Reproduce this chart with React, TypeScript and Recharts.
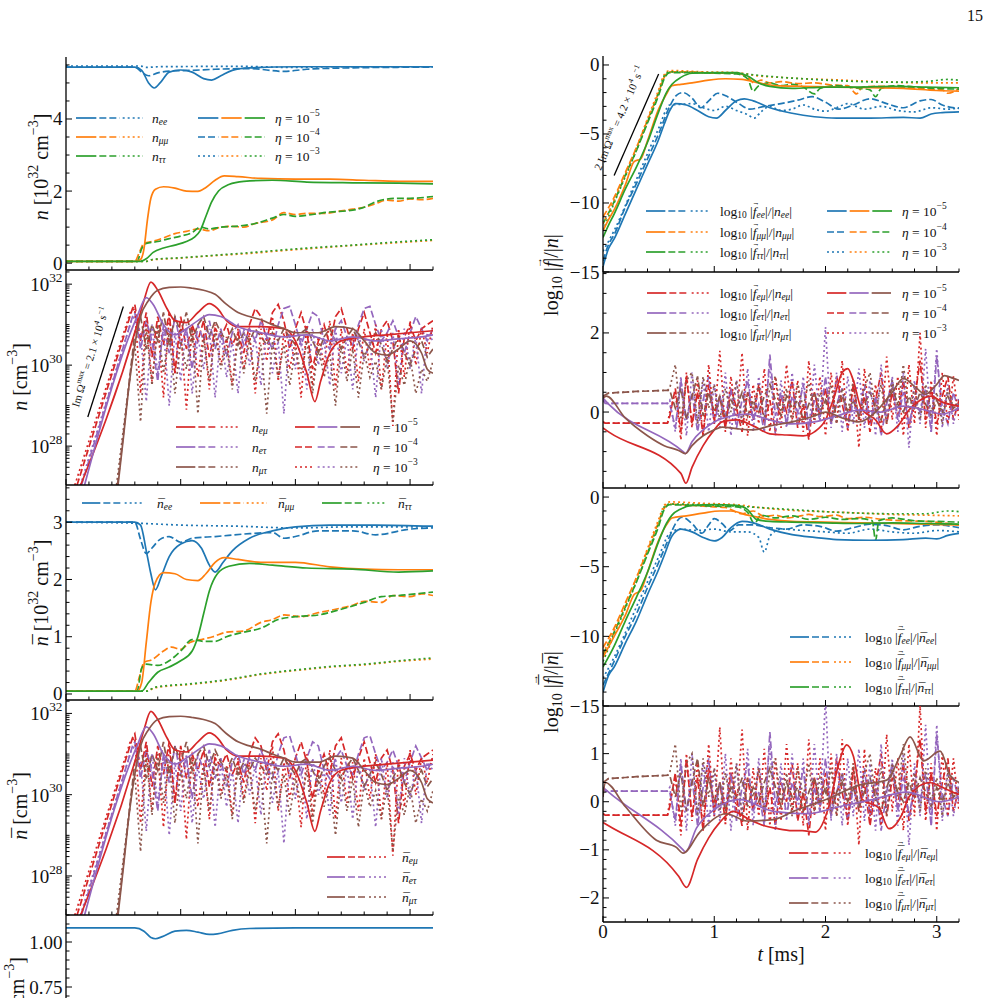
import React from 'react';
import { LineChart, Line, XAxis, YAxis, ReferenceLine } from 'recharts';

type Pt = [number, number];
type Row = { t: number; v: number };

const FONT = '"Liberation Serif", "DejaVu Serif", serif';
const BLUE = '#1f77b4';
const ORANGE = '#ff7f0e';
const GREEN = '#2ca02c';
const RED = '#d62728';
const PURPLE = '#9467bd';
const BROWN = '#8c564b';
const SOLID = '';
const DASH = '7 3';
const DOT = '2 3';

// ---- time axis ----
const tMajor = [0, 1, 2, 3];
const tGrid = [
  0.6, 0.65, 0.7, 0.75, 0.8, 0.85, 0.9, 0.95, 1.0, 1.05,
  1.1, 1.15, 1.2, 1.25, 1.3, 1.35, 1.4, 1.45, 1.5, 1.55,
  1.6, 1.65, 1.7, 1.75, 1.8, 1.85, 1.9, 1.95, 2.0, 2.05,
  2.1, 2.15, 2.2, 2.25, 2.3, 2.35, 2.4, 2.45, 2.5, 2.55,
  2.6, 2.65, 2.7, 2.75, 2.8, 2.85, 2.9, 2.95, 3.0, 3.05,
  3.1, 3.15, 3.2,
];

// ---- diagonal number densities n [1e32 cm^-3] ----
const nEeSolid: Pt[] = [[0, 5.44], [0.6, 5.44], [0.66, 5.35], [0.72, 5.0], [0.77, 4.86], [0.82, 5.0], [0.9, 5.3], [1.0, 5.36], [1.1, 5.3], [1.2, 5.12], [1.27, 5.08], [1.35, 5.2], [1.45, 5.35], [1.6, 5.42], [2.0, 5.45], [3.2, 5.45]];
const nEeDash: Pt[] = [[0, 5.44], [0.6, 5.44], [0.66, 5.3], [0.72, 5.2], [0.8, 5.28], [0.9, 5.33], [1.1, 5.35], [1.3, 5.38], [1.6, 5.4], [1.9, 5.32], [2.1, 5.38], [2.5, 5.42], [3.2, 5.44]];
const nEeDot: Pt[] = [[0, 5.47], [0.65, 5.47], [0.7, 5.43], [0.8, 5.45], [1.5, 5.46], [2.0, 5.43], [2.3, 5.45], [3.2, 5.45]];
const nMmSolid: Pt[] = [[0, 0.05], [0.6, 0.05], [0.65, 0.1], [0.68, 0.4], [0.71, 1.2], [0.74, 1.8], [0.78, 2.05], [0.85, 2.12], [0.95, 2.08], [1.05, 2.0], [1.15, 1.99], [1.22, 2.1], [1.3, 2.3], [1.38, 2.42], [1.5, 2.4], [1.7, 2.35], [2.0, 2.33], [2.3, 2.33], [2.6, 2.3], [2.9, 2.27], [3.2, 2.27]];
const nMmDash: Pt[] = [[0, 0.05], [0.6, 0.05], [0.64, 0.3], [0.68, 0.55], [0.75, 0.6], [0.85, 0.7], [0.95, 0.82], [1.05, 0.88], [1.15, 0.95], [1.25, 0.9], [1.35, 1.0], [1.45, 1.02], [1.55, 1.0], [1.65, 1.1], [1.8, 1.2], [1.9, 1.4], [2.0, 1.35], [2.1, 1.38], [2.25, 1.38], [2.4, 1.45], [2.5, 1.5], [2.6, 1.55], [2.7, 1.65], [2.8, 1.75], [2.9, 1.72], [3.0, 1.78], [3.1, 1.76], [3.2, 1.8]];
const nMmDot: Pt[] = [[0, 0.05], [0.7, 0.05], [0.75, 0.09], [1.0, 0.14], [1.3, 0.21], [1.6, 0.27], [1.9, 0.35], [2.2, 0.42], [2.5, 0.49], [2.8, 0.55], [3.2, 0.63]];
const nTtSolid: Pt[] = [[0, 0.05], [0.65, 0.05], [0.7, 0.12], [0.76, 0.3], [0.85, 0.42], [0.95, 0.5], [1.05, 0.6], [1.12, 0.72], [1.17, 0.9], [1.22, 1.3], [1.27, 1.7], [1.33, 2.0], [1.42, 2.18], [1.55, 2.27], [1.8, 2.3], [2.1, 2.25], [2.5, 2.23], [2.9, 2.22], [3.2, 2.2]];
const nTtDash: Pt[] = [[0, 0.05], [0.62, 0.05], [0.66, 0.4], [0.7, 0.55], [0.8, 0.6], [0.9, 0.68], [1.0, 0.75], [1.1, 0.85], [1.17, 1.0], [1.25, 0.95], [1.35, 1.0], [1.5, 1.03], [1.65, 1.1], [1.8, 1.25], [1.9, 1.35], [2.0, 1.3], [2.15, 1.35], [2.3, 1.42], [2.45, 1.45], [2.6, 1.55], [2.7, 1.7], [2.8, 1.78], [2.9, 1.8], [3.0, 1.8], [3.2, 1.85]];
const nTtDot: Pt[] = [[0, 0.05], [0.7, 0.05], [0.75, 0.1], [1.0, 0.15], [1.3, 0.22], [1.6, 0.29], [1.9, 0.37], [2.2, 0.44], [2.5, 0.5], [2.8, 0.57], [3.2, 0.65]];

// ---- antineutrino diagonal densities ----
const nbEeSolid: Pt[] = [[0, 3.0], [0.6, 3.0], [0.65, 2.95], [0.7, 2.5], [0.74, 2.1], [0.78, 1.82], [0.83, 2.05], [0.9, 2.4], [1.0, 2.62], [1.1, 2.68], [1.18, 2.55], [1.25, 2.25], [1.3, 2.13], [1.37, 2.3], [1.45, 2.5], [1.6, 2.72], [1.8, 2.85], [2.0, 2.92], [2.3, 2.95], [2.7, 2.95], [3.2, 2.93]];
const nbEeDash: Pt[] = [[0, 3.0], [0.6, 3.0], [0.65, 2.7], [0.7, 2.45], [0.75, 2.55], [0.82, 2.7], [0.9, 2.75], [1.0, 2.65], [1.1, 2.72], [1.3, 2.75], [1.6, 2.8], [1.8, 2.82], [1.9, 2.72], [2.0, 2.75], [2.2, 2.85], [2.5, 2.85], [2.7, 2.78], [3.0, 2.88], [3.2, 2.9]];
const nbEeDot: Pt[] = [[0, 3.0], [0.65, 2.98], [1.0, 2.95], [1.5, 2.93], [2.0, 2.9], [2.5, 2.92], [3.2, 2.92]];
const nbMmSolid: Pt[] = [[0, 0.05], [0.62, 0.05], [0.66, 0.2], [0.7, 0.9], [0.74, 1.6], [0.78, 1.95], [0.85, 2.12], [0.95, 2.1], [1.05, 2.0], [1.15, 1.98], [1.22, 2.1], [1.3, 2.3], [1.38, 2.38], [1.5, 2.35], [1.7, 2.3], [2.0, 2.3], [2.3, 2.22], [2.6, 2.18], [2.9, 2.17], [3.2, 2.17]];
const nbMmDash: Pt[] = [[0, 0.05], [0.6, 0.05], [0.64, 0.3], [0.68, 0.55], [0.75, 0.6], [0.85, 0.75], [0.92, 0.82], [1.0, 0.78], [1.08, 0.9], [1.18, 0.95], [1.28, 1.0], [1.4, 1.08], [1.55, 1.1], [1.7, 1.25], [1.8, 1.3], [1.9, 1.38], [2.05, 1.35], [2.2, 1.42], [2.35, 1.48], [2.5, 1.55], [2.6, 1.62], [2.75, 1.6], [2.85, 1.72], [3.0, 1.7], [3.1, 1.75], [3.2, 1.72]];
const nbMmDot: Pt[] = [[0, 0.05], [0.7, 0.05], [0.78, 0.11], [1.1, 0.17], [1.4, 0.24], [1.7, 0.34], [2.0, 0.41], [2.3, 0.47], [2.6, 0.51], [2.9, 0.57], [3.2, 0.61]];
const nbTtSolid: Pt[] = [[0, 0.05], [0.66, 0.05], [0.72, 0.2], [0.8, 0.38], [0.9, 0.47], [1.0, 0.58], [1.1, 0.75], [1.15, 1.0], [1.2, 1.4], [1.25, 1.8], [1.32, 2.1], [1.42, 2.23], [1.6, 2.28], [1.8, 2.25], [2.1, 2.2], [2.5, 2.18], [2.9, 2.13], [3.2, 2.15]];
const nbTtDash: Pt[] = [[0, 0.05], [0.62, 0.05], [0.66, 0.45], [0.7, 0.52], [0.8, 0.5], [0.9, 0.58], [1.0, 0.75], [1.1, 0.95], [1.2, 0.92], [1.3, 0.92], [1.4, 1.0], [1.55, 1.08], [1.7, 1.15], [1.85, 1.3], [2.0, 1.35], [2.2, 1.38], [2.4, 1.48], [2.6, 1.6], [2.75, 1.7], [2.9, 1.72], [3.05, 1.75], [3.2, 1.78]];
const nbTtDot: Pt[] = [[0, 0.05], [0.7, 0.05], [0.78, 0.12], [1.1, 0.18], [1.4, 0.25], [1.7, 0.35], [2.0, 0.42], [2.3, 0.48], [2.6, 0.52], [2.9, 0.58], [3.2, 0.63]];

// ---- off-diagonal |n| in log10(cm^-3) ----
const nEmSolid: Pt[] = [[0.08, 26.7], [0.62, 31.0], [0.68, 31.6], [0.74, 32.05], [0.8, 31.85], [0.88, 31.4], [0.95, 31.1], [1.05, 31.05], [1.15, 31.3], [1.25, 31.52], [1.32, 31.4], [1.4, 31.1], [1.5, 30.95], [1.7, 30.95], [1.9, 30.9], [2.0, 30.6], [2.1, 29.8], [2.17, 29.1], [2.22, 29.6], [2.3, 30.3], [2.4, 30.6], [2.6, 30.7], [2.8, 30.75], [3.0, 30.8], [3.2, 30.85]];
const nEtSolid: Pt[] = [[0.13, 26.7], [0.62, 31.2], [0.7, 31.67], [0.76, 31.5], [0.85, 31.0], [0.95, 30.75], [1.05, 30.9], [1.15, 31.1], [1.25, 31.25], [1.35, 31.2], [1.5, 30.95], [1.7, 30.8], [1.9, 30.7], [2.1, 30.75], [2.3, 30.6], [2.5, 30.7], [2.7, 30.6], [2.9, 30.65], [3.1, 30.7], [3.2, 30.75]];
const nMtSolid: Pt[] = [[0.44, 26.7], [0.5, 28.2], [0.55, 29.5], [0.6, 30.5], [0.65, 31.2], [0.72, 31.6], [0.8, 31.85], [0.9, 31.92], [1.0, 31.93], [1.1, 31.9], [1.2, 31.85], [1.3, 31.75], [1.4, 31.5], [1.5, 31.3], [1.6, 31.2], [1.7, 31.12], [1.8, 31.0], [1.9, 30.9], [2.0, 30.8], [2.2, 30.8], [2.35, 30.95], [2.5, 30.9], [2.6, 30.6], [2.7, 30.3], [2.8, 30.25], [2.9, 30.4], [3.0, 30.6], [3.1, 30.3], [3.15, 29.9], [3.2, 29.8]];

const nEmDashHead: Pt[] = [[0.07, 26.8], [0.58, 31.4]];
const nEmDotHead: Pt[] = [[0.05, 26.8], [0.56, 31.3]];
const nEtDashHead: Pt[] = [[0.11, 26.8], [0.58, 31.2]];
const nEtDotHead: Pt[] = [[0.1, 26.8], [0.57, 31.1]];
const nMtDashHead: Pt[] = [[0.44, 26.8], [0.58, 30.3]];
const nMtDotHead: Pt[] = [[0.43, 26.8], [0.57, 30.0]];

const nEmDash = [
  31.5, 30.6, 31.3, 30.2, 31.2, 30.5, 31.3, 29.8, 31.2, 30.4,
  31.0, 30.6, 31.1, 30.2, 30.9, 30.7, 31.0, 30.5, 30.8, 30.3,
  31.0, 31.4, 31.2, 30.6, 31.3, 31.5, 31.1, 30.4, 30.9, 31.3,
  30.8, 29.9, 30.6, 31.0, 30.5, 31.2, 31.4, 30.9, 30.4, 30.9,
  31.3, 30.8, 30.3, 30.9, 31.1, 30.6, 29.3, 30.7, 31.0, 30.6,
  30.9, 31.0, 31.1,
];
const nEtDash = [
  31.3, 30.4, 31.1, 30.6, 29.6, 31.0, 30.3, 31.2, 30.5, 30.9,
  29.9, 31.0, 30.6, 31.1, 30.4, 30.9, 30.2, 30.8, 31.0, 30.5,
  30.9, 30.6, 31.1, 30.7, 30.4, 31.0, 31.4, 31.45, 31.0, 30.5,
  30.9, 31.3, 31.2, 30.6, 30.4, 30.9, 31.1, 30.7, 30.5, 31.0,
  31.4, 31.45, 31.0, 30.6, 30.8, 31.1, 30.7, 30.3, 30.8, 31.2,
  30.9, 30.6, 30.9,
];
const nMtDash = [
  30.8, 31.2, 30.4, 31.0, 30.6, 31.3, 30.5, 31.2, 30.8, 31.3,
  30.6, 31.0, 31.2, 30.7, 31.1, 30.8, 30.6, 30.9, 30.5, 30.8,
  30.6, 30.9, 30.7, 30.5, 30.8, 30.6, 30.9, 30.7, 30.5, 30.8,
  30.9, 30.6, 30.3, 30.7, 30.9, 30.6, 30.4, 30.7, 30.9, 30.6,
  30.2, 30.5, 30.8, 30.5, 30.1, 30.4, 30.7, 30.3, 30.0, 30.4,
  30.6, 30.2, 30.4,
];
const nEmDot = [
  31.4, 29.3, 31.1, 29.6, 31.0, 29.2, 31.2, 29.8, 30.9, 28.9,
  31.0, 29.7, 30.8, 29.4, 31.0, 30.0, 30.7, 29.5, 30.9, 29.9,
  30.8, 29.3, 30.9, 30.1, 31.2, 29.6, 30.8, 29.9, 30.6, 29.2,
  31.0, 29.5, 30.7, 30.0, 31.1, 29.4, 30.9, 29.8, 30.8, 29.6,
  30.9, 29.9, 31.0, 29.4, 30.8, 28.5, 30.9, 29.7, 31.1, 30.0,
  30.9, 30.3, 31.0,
];
const nEtDot = [
  31.2, 30.8, 29.1, 31.0, 29.8, 30.9, 29.0, 30.8, 29.6, 31.0,
  29.3, 30.7, 29.9, 30.9, 29.2, 30.8, 29.7, 30.6, 29.3, 30.9,
  30.0, 30.7, 29.5, 30.9, 29.8, 30.6, 28.8, 30.8, 29.9, 30.7,
  29.4, 30.9, 30.0, 30.6, 29.5, 30.9, 29.8, 30.7, 29.4, 30.8,
  30.1, 30.6, 29.2, 30.9, 29.9, 30.8, 29.5, 30.9, 29.9, 30.7,
  29.3, 30.8, 30.6,
];
const nMtDot = [
  30.5, 28.6, 30.9, 29.5, 31.0, 29.8, 30.8, 29.3, 30.6, 29.9,
  30.9, 28.8, 30.7, 29.6, 30.8, 29.9, 30.5, 29.4, 30.7, 29.8,
  30.6, 29.6, 30.5, 28.8, 30.6, 29.7, 30.5, 29.5, 30.4, 29.8,
  30.6, 29.3, 30.5, 29.7, 30.3, 29.0, 30.5, 29.6, 30.4, 29.2,
  30.3, 29.7, 30.1, 29.4, 30.2, 28.6, 30.0, 29.5, 30.2, 29.3,
  29.9, 29.6, 30.1,
];

// ---- total density (bottom left) ----
const nTot: Pt[] = [[0, 1.078], [0.6, 1.078], [0.68, 1.06], [0.74, 1.025], [0.78, 1.018], [0.84, 1.03], [0.95, 1.06], [1.05, 1.065], [1.15, 1.055], [1.25, 1.042], [1.32, 1.045], [1.45, 1.065], [1.6, 1.075], [2.0, 1.078], [3.2, 1.078]];

// ---- log10 |f|/|n|, diagonal ----
const fEeSolid: Pt[] = [[0, -14.6], [0.05, -13.3], [0.1, -12.6], [0.2, -10.8], [0.3, -9.0], [0.4, -7.2], [0.5, -5.4], [0.55, -4.3], [0.6, -3.3], [0.65, -2.8], [0.75, -2.9], [0.85, -3.3], [0.95, -3.75], [1.02, -3.85], [1.1, -3.3], [1.2, -2.6], [1.27, -2.45], [1.35, -2.6], [1.5, -3.1], [1.7, -3.5], [1.9, -3.75], [2.1, -3.85], [2.4, -3.85], [2.7, -3.8], [2.85, -3.85], [2.95, -3.55], [3.05, -3.45], [3.2, -3.4]];
const fEeDash: Pt[] = [[0, -14.2], [0.05, -13.0], [0.1, -12.3], [0.2, -10.3], [0.3, -8.6], [0.4, -6.8], [0.5, -5.0], [0.6, -3.0], [0.66, -2.2], [0.72, -2.0], [0.8, -2.4], [0.88, -3.1], [0.95, -2.6], [1.03, -2.05], [1.12, -2.3], [1.22, -2.8], [1.32, -3.2], [1.45, -3.0], [1.6, -2.8], [1.75, -2.55], [1.88, -2.3], [2.0, -2.7], [2.12, -3.2], [2.25, -2.9], [2.4, -2.45], [2.55, -2.8], [2.7, -3.1], [2.85, -2.6], [2.95, -2.5], [3.05, -2.9], [3.2, -3.15]];
const fEeDot: Pt[] = [[0, -13.5], [0.1, -12.0], [0.3, -8.3], [0.5, -4.6], [0.6, -2.9], [0.7, -2.85], [0.8, -2.8], [0.9, -3.1], [1.0, -3.3], [1.1, -3.0], [1.2, -3.3], [1.3, -3.6], [1.36, -3.85], [1.42, -3.4], [1.5, -3.0], [1.6, -3.3], [1.7, -3.2], [1.8, -2.9], [1.9, -3.2], [2.0, -3.35], [2.1, -3.1], [2.2, -2.8], [2.35, -3.2], [2.5, -3.0], [2.65, -3.3], [2.8, -3.4], [2.95, -3.1], [3.1, -3.2], [3.2, -3.1]];
const fMmSolid: Pt[] = [[0, -12.0], [0.05, -11.2], [0.1, -10.5], [0.2, -8.7], [0.28, -7.0], [0.34, -6.8], [0.4, -5.5], [0.5, -3.2], [0.57, -2.1], [0.62, -1.5], [0.7, -1.4], [0.8, -1.3], [0.95, -1.1], [1.1, -1.0], [1.25, -1.05], [1.4, -1.3], [1.55, -1.5], [1.8, -1.55], [2.1, -1.6], [2.4, -1.65], [2.7, -1.7], [3.0, -1.85], [3.2, -1.9]];
const fMmDash: Pt[] = [[0, -11.0], [0.1, -9.6], [0.2, -7.8], [0.3, -6.0], [0.4, -4.0], [0.5, -2.0], [0.55, -0.9], [0.6, -0.5], [0.8, -0.5], [1.0, -0.6], [1.2, -0.6], [1.3, -0.9], [1.36, -1.3], [1.42, -1.1], [1.5, -1.3], [1.6, -1.2], [1.75, -1.35], [1.9, -1.3], [2.05, -1.45], [2.2, -1.5], [2.28, -2.1], [2.33, -1.6], [2.5, -1.55], [2.7, -1.6], [2.9, -1.75], [3.05, -1.8], [3.1, -2.05], [3.2, -1.7]];
const fMmDot: Pt[] = [[0, -11.5], [0.1, -9.8], [0.2, -7.9], [0.3, -6.0], [0.4, -3.9], [0.5, -1.8], [0.55, -0.7], [0.6, -0.4], [0.9, -0.5], [1.2, -0.55], [1.4, -0.8], [1.6, -0.9], [1.8, -1.0], [2.0, -1.05], [2.3, -1.15], [2.6, -1.25], [2.9, -1.3], [3.2, -1.3]];
const fTtSolid: Pt[] = [[0, -12.5], [0.05, -11.6], [0.1, -10.8], [0.2, -9.0], [0.3, -7.4], [0.4, -5.6], [0.5, -3.4], [0.57, -2.0], [0.62, -1.4], [0.7, -0.9], [0.8, -0.6], [1.0, -0.55], [1.2, -0.55], [1.3, -0.8], [1.4, -1.3], [1.5, -1.55], [1.7, -1.7], [2.0, -1.6], [2.3, -1.6], [2.6, -1.55], [2.9, -1.6], [3.2, -1.65]];
const fTtDash: Pt[] = [[0, -11.5], [0.1, -9.9], [0.2, -8.0], [0.3, -6.2], [0.4, -4.2], [0.5, -2.2], [0.55, -1.0], [0.6, -0.55], [0.8, -0.55], [1.0, -0.6], [1.2, -0.65], [1.3, -1.0], [1.35, -1.9], [1.4, -1.5], [1.5, -1.3], [1.6, -1.5], [1.7, -1.4], [1.8, -1.6], [1.9, -2.1], [1.95, -1.7], [2.1, -1.5], [2.25, -1.65], [2.4, -1.8], [2.45, -2.3], [2.5, -1.7], [2.65, -1.5], [2.8, -1.6], [3.0, -1.7], [3.2, -1.75]];
const fTtDot: Pt[] = [[0, -12.0], [0.1, -10.0], [0.2, -8.1], [0.3, -6.2], [0.4, -4.1], [0.5, -2.0], [0.55, -0.8], [0.6, -0.5], [0.9, -0.55], [1.2, -0.6], [1.4, -0.75], [1.6, -0.9], [1.8, -1.0], [2.0, -1.1], [2.3, -1.2], [2.6, -1.25], [2.9, -1.2], [3.1, -1.05], [3.2, -1.1]];

// ---- log10 |f|/|n|, antineutrino diagonal ----
const fbEeSolid: Pt[] = [[0, -14.0], [0.05, -12.8], [0.1, -12.2], [0.2, -10.5], [0.3, -8.9], [0.4, -7.0], [0.5, -5.2], [0.55, -4.2], [0.62, -2.8], [0.7, -2.3], [0.8, -2.5], [0.9, -2.9], [1.0, -3.15], [1.07, -2.9], [1.15, -2.2], [1.25, -1.75], [1.35, -1.85], [1.5, -2.3], [1.7, -2.7], [1.9, -2.9], [2.1, -3.05], [2.4, -3.1], [2.7, -3.05], [2.9, -2.95], [3.0, -3.0], [3.1, -2.75], [3.2, -2.6]];
const fbEeDash: Pt[] = [[0, -13.5], [0.1, -11.8], [0.2, -10.0], [0.3, -8.4], [0.4, -6.5], [0.5, -4.7], [0.6, -2.8], [0.66, -1.8], [0.71, -1.45], [0.8, -1.9], [0.89, -2.6], [0.95, -2.0], [1.0, -1.55], [1.07, -1.9], [1.14, -2.4], [1.22, -2.0], [1.35, -2.0], [1.5, -2.2], [1.65, -2.3], [1.8, -2.0], [1.95, -2.1], [2.1, -2.45], [2.25, -2.2], [2.4, -1.95], [2.55, -2.05], [2.7, -2.35], [2.85, -2.1], [3.0, -2.0], [3.2, -2.2]];
const fbEeDot: Pt[] = [[0, -13.0], [0.1, -11.5], [0.3, -7.9], [0.5, -4.3], [0.6, -2.6], [0.7, -2.3], [0.85, -2.4], [1.0, -2.3], [1.15, -2.5], [1.3, -2.5], [1.4, -2.9], [1.45, -3.95], [1.5, -2.8], [1.6, -2.3], [1.8, -2.4], [2.0, -2.5], [2.2, -2.6], [2.4, -2.3], [2.6, -2.5], [2.8, -2.6], [3.0, -2.4], [3.2, -2.5]];
const fbMmSolid: Pt[] = [[0, -11.5], [0.1, -10.0], [0.2, -8.5], [0.28, -7.0], [0.34, -6.7], [0.4, -5.4], [0.5, -3.1], [0.57, -2.0], [0.62, -1.5], [0.75, -1.35], [0.9, -1.15], [1.05, -1.0], [1.15, -1.0], [1.3, -1.3], [1.5, -1.6], [1.7, -1.75], [2.0, -1.8], [2.3, -1.85], [2.6, -1.9], [2.9, -1.95], [3.2, -2.0]];
const fbMmDash: Pt[] = [[0, -10.8], [0.1, -9.4], [0.2, -7.6], [0.3, -5.8], [0.4, -3.8], [0.5, -1.8], [0.55, -0.8], [0.6, -0.5], [0.8, -0.6], [1.0, -0.7], [1.1, -0.75], [1.25, -1.2], [1.35, -1.0], [1.45, -1.4], [1.55, -1.3], [1.65, -1.5], [1.75, -1.4], [1.85, -1.25], [1.95, -1.4], [2.1, -1.3], [2.2, -1.55], [2.35, -1.45], [2.5, -1.6], [2.7, -1.7], [2.9, -1.75], [3.05, -1.85], [3.2, -2.0]];
const fbMmDot: Pt[] = [[0, -11.2], [0.1, -9.6], [0.2, -7.7], [0.3, -5.8], [0.4, -3.7], [0.5, -1.6], [0.55, -0.6], [0.6, -0.35], [0.9, -0.45], [1.2, -0.55], [1.4, -0.75], [1.6, -0.9], [1.8, -1.0], [2.0, -1.05], [2.3, -1.15], [2.6, -1.25], [2.9, -1.3], [3.2, -1.35]];
const fbTtSolid: Pt[] = [[0, -12.2], [0.1, -10.7], [0.2, -8.9], [0.3, -7.2], [0.4, -5.4], [0.5, -3.2], [0.57, -1.9], [0.62, -1.3], [0.7, -0.85], [0.8, -0.6], [1.0, -0.55], [1.2, -0.6], [1.3, -0.9], [1.38, -1.6], [1.5, -1.75], [1.7, -1.8], [2.0, -1.85], [2.3, -1.9], [2.6, -1.85], [2.9, -1.9], [3.2, -1.95]];
const fbTtDash: Pt[] = [[0, -11.3], [0.1, -9.7], [0.2, -7.9], [0.3, -6.1], [0.4, -4.1], [0.5, -2.1], [0.55, -0.9], [0.6, -0.55], [0.8, -0.6], [1.0, -0.65], [1.2, -0.7], [1.3, -1.1], [1.36, -1.9], [1.42, -1.3], [1.55, -1.5], [1.7, -1.35], [1.85, -1.6], [2.0, -1.45], [2.15, -1.6], [2.3, -1.55], [2.42, -1.7], [2.45, -3.1], [2.48, -1.7], [2.6, -1.5], [2.8, -1.7], [3.0, -1.75], [3.2, -1.8]];
const fbTtDot: Pt[] = [[0, -11.8], [0.1, -9.9], [0.2, -8.0], [0.3, -6.1], [0.4, -4.0], [0.5, -1.9], [0.55, -0.7], [0.6, -0.5], [0.9, -0.55], [1.2, -0.65], [1.4, -0.75], [1.6, -0.85], [1.8, -0.95], [2.0, -1.05], [2.3, -1.15], [2.6, -1.2], [2.9, -1.2], [3.1, -1.0], [3.2, -1.05]];

// ---- log10 |f|/|n|, off-diagonal ----
const fEmSolid: Pt[] = [[0, -0.4], [0.05, -0.5], [0.7, -1.55], [0.745, -1.8], [0.8, -1.4], [0.9, -0.85], [1.0, -0.45], [1.07, -0.25], [1.2, -0.2], [1.35, -0.35], [1.5, -0.55], [1.65, -0.58], [1.8, -0.6], [1.9, -0.5], [2.0, -0.2], [2.08, 0.4], [2.15, 1.0], [2.2, 1.1], [2.25, 0.8], [2.32, 0.1], [2.45, -0.2], [2.55, -0.55], [2.65, -0.35], [2.75, 0.05], [2.85, 0.3], [2.95, 0.4], [3.05, 0.25], [3.2, 0.15]];
const fEtSolid: Pt[] = [[0, 0.35], [0.05, 0.2], [0.72, -1.0], [0.74, -1.05], [0.8, -0.75], [0.9, -0.45], [1.0, -0.25], [1.15, -0.1], [1.3, -0.05], [1.5, -0.2], [1.7, -0.3], [1.9, -0.25], [2.1, -0.1], [2.3, 0.05], [2.5, 0.0], [2.7, 0.15], [2.9, 0.05], [3.05, -0.05], [3.2, 0.1]];
const fMtSolid: Pt[] = [[0, 0.35], [0.03, 0.4], [0.2, -0.15], [0.4, -0.6], [0.55, -0.85], [0.68, -0.97], [0.74, -1.05], [0.8, -0.85], [0.9, -0.6], [1.0, -0.45], [1.07, -0.38], [1.2, -0.42], [1.35, -0.45], [1.5, -0.35], [1.7, -0.25], [1.9, -0.1], [2.0, 0.0], [2.15, -0.15], [2.3, -0.25], [2.45, 0.0], [2.6, 0.5], [2.7, 0.85], [2.8, 0.65], [2.9, 0.45], [3.0, 0.7], [3.07, 0.92], [3.15, 0.85], [3.2, 0.8]];
const fbEmSolid: Pt[] = [[0, -0.43], [0.05, -0.5], [0.68, -1.55], [0.75, -1.78], [0.85, -1.2], [0.95, -0.75], [1.05, -0.43], [1.17, -0.2], [1.3, -0.35], [1.45, -0.5], [1.55, -0.55], [1.7, -0.6], [1.79, -0.6], [1.91, -0.63], [2.03, -0.1], [2.12, 0.8], [2.19, 1.18], [2.25, 0.95], [2.33, 0.05], [2.48, -0.13], [2.57, -0.56], [2.69, -0.25], [2.75, 0.1], [2.93, 0.4], [3.05, 0.3], [3.14, 0.2], [3.2, 0.15]];
const fbEtSolid: Pt[] = [[0, 0.3], [0.05, 0.2], [0.72, -1.0], [0.74, -1.05], [0.84, -0.55], [0.99, -0.18], [1.23, 0.05], [1.53, -0.2], [1.83, -0.25], [2.13, -0.1], [2.43, 0.05], [2.73, 0.2], [3.03, 0.0], [3.2, 0.1]];
const fbMtSolid: Pt[] = [[0, 0.1], [0.02, 0.4], [0.2, -0.1], [0.48, -0.8], [0.66, -0.95], [0.72, -1.07], [0.87, -0.63], [1.11, -0.25], [1.29, -0.4], [1.53, -0.37], [1.71, -0.2], [2.01, 0.05], [2.31, 0.35], [2.55, 0.45], [2.67, 0.95], [2.76, 1.35], [2.88, 0.85], [3.03, 1.05], [3.12, 0.55], [3.2, 0.4]];

const fEmHead: Pt[] = [[0, -0.25], [0.02, -0.28], [0.58, -0.28]];
const fEtHead: Pt[] = [[0, 0.3], [0.02, 0.22], [0.58, 0.22]];
const fMtHead: Pt[] = [[0, 0.4], [0.05, 0.48], [0.3, 0.52], [0.58, 0.55]];

const fEmDash = [
  -0.1, 0.6, -0.5, 0.9, -0.3, 0.5, -0.6, 0.7, -0.2, 0.4,
  -0.4, 0.6, 0.1, -0.5, 0.5, -0.2, 0.7, -0.3, 0.3, -0.5,
  0.4, 0.0, 0.8, -0.4, 0.2, -0.7, 0.5, -0.1, 0.6, -0.3,
  0.9, 0.2, -0.4, 0.7, -0.2, 0.4, -0.5, 0.3, 1.0, -0.3,
  0.5, -0.1, 0.8, -0.4, 0.3, 1.3, -0.2, 0.6, -0.3, 0.4,
  0.9, -0.2, 0.3,
];
const fEtDash = [
  0.2, -0.4, 0.8, -0.2, 0.5, -0.5, 0.3, 0.9, -0.3, 0.4,
  -0.1, 0.6, -0.4, 0.3, 0.8, -0.2, 0.2, -0.5, 1.45, -0.1,
  0.5, -0.3, 0.4, 0.0, 0.7, -0.4, 0.3, -0.2, 0.9, -0.3,
  0.2, 0.6, -0.4, 0.3, -0.1, 0.7, -0.3, 0.4, -0.6, 0.2,
  0.8, -0.2, 0.5, -0.3, 0.3, 0.0, 0.6, -0.5, 1.4, 0.1,
  -0.3, 0.5, 0.0,
];
const fMtDash = [
  0.55, 0.1, 0.6, -0.2, 0.4, 0.9, -0.1, 0.5, 0.0, 0.4,
  -0.2, 0.3, 0.1, 0.5, -0.1, 0.3, 0.0, 0.4, 0.7, 0.3,
  -0.1, 0.4, 0.1, 0.3, -0.2, 0.2, 0.5, 0.0, 0.3, -0.2,
  0.2, 0.4, 0.0, 0.3, -0.1, 0.2, 0.5, 0.1, -0.2, 0.3,
  0.6, 0.2, 0.0, 0.4, 0.1, 0.5, 0.2, -0.1, 0.3, 0.0,
  0.4, 0.1, 0.2,
];
const fEmDot = [
  0.0, 0.5, -0.7, 1.0, -0.4, 0.8, -0.6, 1.2, -0.3, 1.55,
  -0.5, 0.9, -0.2, 1.5, -0.6, 0.7, -0.3, 1.1, -0.5, 0.9,
  -0.4, 1.2, -0.2, 0.8, -0.5, 1.3, -0.3, 0.9, -0.6, 1.0,
  -0.3, 1.3, -0.5, 0.8, -0.9, 1.1, -0.3, 0.7, -0.5, 1.4,
  -0.2, 0.9, -0.6, 1.2, -0.3, 2.0, -0.4, 0.8, -0.6, 1.0,
  -0.3, 0.9, -0.2,
];
const fEtDot = [
  0.3, -0.5, 0.9, -0.6, 1.0, -0.3, 0.8, -0.5, 0.7, -0.4,
  1.0, -0.6, 0.8, -0.3, 1.1, -0.5, 0.9, -0.2, 1.2, -0.6,
  0.8, -0.4, 1.0, -0.3, 0.9, -0.5, 1.2, -0.2, 2.15, -0.4,
  1.0, -0.5, 0.9, -0.3, 1.1, -0.4, 0.8, -0.6, 1.2, -0.2,
  0.9, -0.5, 1.0, -0.9, 0.8, -0.3, 1.6, -0.5, 1.6, -0.4,
  0.7, -0.3, 0.4,
];
const fMtDot = [
  0.6, 1.2, -0.2, 0.8, 1.0, -0.3, 0.9, 0.1, 0.7, -0.2,
  0.6, 0.0, 0.8, -0.3, 0.5, 0.1, 0.7, -0.2, 0.6, 0.9,
  0.0, 0.6, -0.3, 0.7, 0.1, 0.8, -0.2, 0.5, 0.2, 0.7,
  -0.3, 0.6, 0.0, 0.8, -0.2, 0.6, 1.0, 0.0, 0.7, -0.3,
  0.8, 0.1, 1.2, 0.0, 0.6, -0.2, 0.7, 0.0, 0.5, -0.3,
  0.6, 0.1, 0.3,
];

// ---- helpers ----
const pts = (a: Pt[]): Row[] => a.map(([t, v]) => ({ t, v }));
const noisy = (head: Pt[], vals: number[]): Row[] => [...pts(head), ...tGrid.map((t, i) => ({ t, v: vals[i] }))];
const range = (a: number, b: number, s: number) => {
  const r: number[] = [];
  for (let v = a; v <= b + 1e-9; v += s) r.push(Math.round(v * 1000) / 1000);
  return r;
};
const near = (list: number[], v: number) => list.some((m) => Math.abs(m - v) < 1e-6);

let ctx: CanvasRenderingContext2D | null = null;
function textW(s: string, size: number, it: boolean) {
  if (!ctx) ctx = document.createElement('canvas').getContext('2d');
  if (!ctx) return size * 0.5 * s.length;
  ctx.font = `${it ? 'italic ' : ''}${size}px "Liberation Serif"`;
  return ctx.measureText(s).width;
}

// tiny markup: *italic*, _{sub}, ^{sup}, ~x bar, @x arrow, %x bar+arrow
type Part = { s: string; it: boolean; lvl: number; acc?: string[] };
const ACC: Record<string, { glyph: string; scale: number; raise: number }> = {
  bar: { glyph: '¯', scale: 1, raise: 0.0 },
  barHi: { glyph: '¯', scale: 1, raise: 0.2 },
  arrow: { glyph: '→', scale: 0.55, raise: 0.66 },
  arrowHi: { glyph: '→', scale: 0.55, raise: 0.86 },
};
function parse(src: string): Part[] {
  const out: Part[] = [];
  let it = false;
  let lvl = 0;
  let buf = '';
  const flush = () => {
    if (buf) out.push({ s: buf, it, lvl });
    buf = '';
  };
  for (let i = 0; i < src.length; i++) {
    const ch = src[i];
    if (ch === '*') { flush(); it = !it; continue; }
    if ((ch === '_' || ch === '^') && src[i + 1] === '{') { flush(); lvl = ch === '_' ? -1 : 1; i++; continue; }
    if (ch === '}') { flush(); lvl = 0; continue; }
    if (ch === '~' || ch === '@' || ch === '%') {
      flush();
      const acc = ch === '~' ? ['bar'] : ch === '@' ? ['arrow'] : ['barHi', 'arrowHi'];
      out.push({ s: src[i + 1], it, lvl, acc });
      i++;
      continue;
    }
    buf += ch;
  }
  flush();
  return out;
}
function rich(src: string, size: number) {
  const off = (l: number) => (l === 1 ? -0.38 * size : l === -1 ? 0.28 * size : 0);
  let cur = 0;
  let pdx = 0;
  let pdy = 0;
  const out: React.ReactNode[] = [];
  parse(src).forEach((p, i) => {
    const fs = p.lvl ? size * 0.7 : size;
    const dy = off(p.lvl) - off(cur) + pdy;
    cur = p.lvl;
    out.push(
      <tspan key={i} dx={pdx || undefined} dy={dy || undefined} fontStyle={p.it ? 'italic' : 'normal'} fontSize={fs}>
        {p.s}
      </tspan>,
    );
    pdx = 0;
    pdy = 0;
    if (p.acc) {
      const wb = textW(p.s, fs, p.it);
      const shift = p.it ? 0.1 * fs : 0;
      let back = wb / 2 - shift;
      let raised = 0;
      p.acc.forEach((a, k) => {
        const spec = ACC[a];
        const afs = fs * spec.scale;
        const wa = textW(spec.glyph, afs, false);
        const want = spec.raise * fs;
        out.push(
          <tspan key={`${i}a${k}`} dx={-(back + wa / 2)} dy={-(want - raised)} fontSize={afs} fontStyle="normal">
            {spec.glyph}
          </tspan>,
        );
        raised = want;
        back = wa / 2;
      });
      pdx = wb / 2 - shift - back;
      pdy = raised;
    }
  });
  return out;
}

type Fmt = ((v: number) => React.ReactNode) | null;
const TICK = 19;
const fmtNum: Fmt = (v) => (v < 0 ? '−' : '') + Math.abs(v);
const fmtFix: Fmt = (v) => v.toFixed(2);
const fmtLog: Fmt = (v) => rich(`10^{${v}}`, TICK);

const tickText = { fontFamily: FONT, fontSize: TICK, fill: '#111' };

function leftTick(major: number[], labeled: number[], fmt: Fmt) {
  return (p: any) => {
    const v = p.payload.value;
    const big = near(major, v);
    return (
      <g>
        <line x1={p.x} x2={p.x + (big ? 6 : 3.5)} y1={p.y} y2={p.y} stroke="#000" strokeWidth={1} />
        {fmt && near(labeled, v) && (
          <text x={p.x - 3.5} y={p.y} textAnchor="end" dominantBaseline="central" {...tickText}>{fmt(v)}</text>
        )}
      </g>
    );
  };
}
function rightTick(major: number[]) {
  return (p: any) => {
    const big = near(major, p.payload.value);
    return <line x1={p.x} x2={p.x - (big ? 6 : 3.5)} y1={p.y} y2={p.y} stroke="#000" strokeWidth={1} />;
  };
}
function bottomTick(fmt: Fmt) {
  return (p: any) => {
    const v = p.payload.value;
    const big = near(tMajor, v);
    return (
      <g>
        <line x1={p.x} x2={p.x} y1={p.y} y2={p.y - (big ? 6 : 3.5)} stroke="#000" strokeWidth={1} />
        {fmt && big && (
          <text x={p.x} y={p.y + 9} textAnchor="middle" dominantBaseline="central" {...tickText}>{fmt(v)}</text>
        )}
      </g>
    );
  };
}
const topTick = (p: any) => {
  const big = near(tMajor, p.payload.value);
  return <line x1={p.x} x2={p.x} y1={p.y} y2={p.y + (big ? 6 : 3.5)} stroke="#000" strokeWidth={1} />;
};

const xTicks = range(0, 3.2, 0.2);
const LW = 80;
const BH = 40;
const AXIS = { stroke: '#000', strokeWidth: 1.3 };

type S = { d: Row[]; c: string; dash: string; lin?: boolean };
const sm = (a: Pt[], c: string, dash: string): S => ({ d: pts(a), c, dash });
const nz = (head: Pt[], vals: number[], c: string, dash: string): S => ({ d: noisy(head, vals), c, dash, lin: true });

type PanelProps = {
  x0: number; y0: number; w: number; h: number; dom: [number, number];
  ticks: number[]; major: number[]; labeled: number[]; fmt: Fmt;
  series: S[]; xLabels?: boolean; seg?: [Pt, Pt];
};

function Panel({ x0, y0, w, h, dom, ticks, major, labeled, fmt, series, xLabels, seg }: PanelProps) {
  const yt = ticks.filter((v) => v >= dom[0] - 1e-9 && v <= dom[1] + 1e-9);
  return (
    <div style={{ position: 'absolute', left: x0 - LW, top: y0 }}>
      <LineChart width={w + LW} height={h + BH} margin={{ top: 0, right: 0, bottom: 0, left: 0 }}>
        <XAxis xAxisId="b" type="number" dataKey="t" domain={[0, 3.2]} allowDataOverflow ticks={xTicks} interval={0}
          height={BH} tickSize={0} tickMargin={0} tickLine={false} axisLine={AXIS} tick={bottomTick(xLabels ? fmtNum : null)} />
        <XAxis xAxisId="t" orientation="top" type="number" domain={[0, 3.2]} allowDataOverflow ticks={xTicks} interval={0}
          height={0} tickSize={0} tickMargin={0} tickLine={false} axisLine={AXIS} tick={topTick} />
        <YAxis yAxisId="l" type="number" domain={dom} allowDataOverflow ticks={yt} interval={0}
          width={LW} tickSize={0} tickMargin={0} tickLine={false} axisLine={AXIS} tick={leftTick(major, labeled, fmt)} />
        <YAxis yAxisId="r" orientation="right" type="number" domain={dom} allowDataOverflow ticks={yt} interval={0}
          width={0} tickSize={0} tickMargin={0} tickLine={false} axisLine={AXIS} tick={rightTick(major)} />
        {series.map((s, i) => (
          <Line key={i} xAxisId="b" yAxisId="l" data={s.d} dataKey="v" type={s.lin ? 'linear' : 'monotone'}
            stroke={s.c} strokeWidth={1.7} strokeDasharray={s.dash || undefined} dot={false} activeDot={false}
            isAnimationActive={false} />
        ))}
        {seg && (
          <ReferenceLine xAxisId="b" yAxisId="l" stroke="#000" strokeWidth={1.3}
            segment={[{ x: seg[0][0], y: seg[0][1] }, { x: seg[1][0], y: seg[1][1] }]} />
        )}
      </LineChart>
    </div>
  );
}

// ---- annotation / legend drawing ----
function T({ x, y, s, size = 13, anchor = 'start', rot = 0 }: { x: number; y: number; s: string; size?: number; anchor?: string; rot?: number }) {
  return (
    <text x={x} y={y} fontFamily={FONT} fontSize={size} textAnchor={anchor as any} dominantBaseline="central" fill="#111"
      transform={rot ? `rotate(${rot} ${x} ${y})` : undefined} style={{ whiteSpace: 'pre' }}>
      {rich(s, size)}
    </text>
  );
}
function Handle({ x, y, w, colors, dashes }: { x: number; y: number; w: number; colors: string[]; dashes: string[] }) {
  const g = 3;
  const sw = (w - 2 * g) / 3;
  return (
    <g>
      {[0, 1, 2].map((i) => (
        <line key={i} x1={x + i * (sw + g)} x2={x + i * (sw + g) + sw} y1={y} y2={y} stroke={colors[i]}
          strokeWidth={1.7} strokeDasharray={dashes[i] || undefined} />
      ))}
    </g>
  );
}
const STY = [SOLID, DASH, DOT];
const ETA = ['*η* = 10^{−5}', '*η* = 10^{−4}', '*η* = 10^{−3}'];
const DIAG = [BLUE, ORANGE, GREEN];
const OFF = [RED, PURPLE, BROWN];

function LegendCol({ x, w, tx, ys, colors, labels, byStyle }: { x: number; w: number; tx: number; ys: number[]; colors: string[]; labels: string[]; byStyle: boolean }) {
  return (
    <g>
      {ys.map((y, i) => (
        <g key={i}>
          {byStyle ? (
            <Handle x={x} y={y} w={w} colors={[colors[i], colors[i], colors[i]]} dashes={STY} />
          ) : (
            <Handle x={x} y={y} w={w} colors={colors} dashes={[STY[i], STY[i], STY[i]]} />
          )}
          <T x={tx} y={y} s={labels[i]} size={13.5} />
        </g>
      ))}
    </g>
  );
}

const nLab = ['*n*_{*ee*}', '*n*_{*μμ*}', '*n*_{*ττ*}'];
const nOffLab = ['*n*_{*eμ*}', '*n*_{*eτ*}', '*n*_{*μτ*}'];
const nbLab = ['*~n*_{*ee*}', '*~n*_{*μμ*}', '*~n*_{*ττ*}'];
const nbOffLab = ['*~n*_{*eμ*}', '*~n*_{*eτ*}', '*~n*_{*μτ*}'];
const fLab = ['log_{10} |*@f*_{*ee*}|/|*n*_{*ee*}|', 'log_{10} |*@f*_{*μμ*}|/|*n*_{*μμ*}|', 'log_{10} |*@f*_{*ττ*}|/|*n*_{*ττ*}|'];
const fOffLab = ['log_{10} |*@f*_{*eμ*}|/|*n*_{*eμ*}|', 'log_{10} |*@f*_{*eτ*}|/|*n*_{*eτ*}|', 'log_{10} |*@f*_{*μτ*}|/|*n*_{*μτ*}|'];
const fbLab = ['log_{10} |*%f*_{*ee*}|/|*~n*_{*ee*}|', 'log_{10} |*%f*_{*μμ*}|/|*~n*_{*μμ*}|', 'log_{10} |*%f*_{*ττ*}|/|*~n*_{*ττ*}|'];
const fbOffLab = ['log_{10} |*%f*_{*eμ*}|/|*~n*_{*eμ*}|', 'log_{10} |*%f*_{*eτ*}|/|*~n*_{*eτ*}|', 'log_{10} |*%f*_{*μτ*}|/|*~n*_{*μτ*}|'];

// ---- axis tick sets ----
const logDecades = [28, 30, 32];
const logTicks = [27, 28, 29, 30, 31, 32].flatMap((d) => [2, 3, 4, 5, 6, 7, 8, 9].map((k) => d + Math.log10(k))).concat([28, 29, 30, 31, 32]);

export default function App() {
  const L = { x0: 66, w: 367 };
  const R = { x0: 603, w: 356 };

  const diagSeries = (ee: Pt[][], mm: Pt[][], tt: Pt[][]): S[] => [
    sm(ee[1], BLUE, DASH), sm(ee[2], BLUE, DOT),
    sm(mm[1], ORANGE, DASH), sm(tt[1], GREEN, DASH),
    sm(mm[2], ORANGE, DOT), sm(tt[2], GREEN, DOT),
    sm(ee[0], BLUE, SOLID), sm(mm[0], ORANGE, SOLID), sm(tt[0], GREEN, SOLID),
  ];

  const nOffSeries: S[] = [
    nz(nEmDashHead, nEmDash, RED, DASH), nz(nEtDashHead, nEtDash, PURPLE, DASH), nz(nMtDashHead, nMtDash, BROWN, DASH),
    nz(nEmDotHead, nEmDot, RED, DOT), nz(nEtDotHead, nEtDot, PURPLE, DOT), nz(nMtDotHead, nMtDot, BROWN, DOT),
    sm(nEmSolid, RED, SOLID), sm(nEtSolid, PURPLE, SOLID), sm(nMtSolid, BROWN, SOLID),
  ];

  const fOffSeries = (em: Pt[], et: Pt[], mt: Pt[]): S[] => [
    nz(fEmHead, fEmDash, RED, DASH), nz(fEtHead, fEtDash, PURPLE, DASH), nz(fMtHead, fMtDash, BROWN, DASH),
    nz(fEmHead, fEmDot, RED, DOT), nz(fEtHead, fEtDot, PURPLE, DOT), nz(fMtHead, fMtDot, BROWN, DOT),
    sm(em, RED, SOLID), sm(et, PURPLE, SOLID), sm(mt, BROWN, SOLID),
  ];

  return (
    <div style={{ position: 'absolute', left: 0, top: 0, width: 997, height: 998, overflow: 'hidden', background: '#fff' }}>
      <style>{'.recharts-surface{overflow:visible}'}</style>

      {/* left column */}
      <Panel {...L} y0={57} h={213} dom={[-0.19, 5.72]} ticks={range(0, 5.5, 0.5)} major={[0, 2, 4]} labeled={[0, 2, 4]} fmt={fmtNum}
        series={diagSeries([nEeSolid, nEeDash, nEeDot], [nMmSolid, nMmDash, nMmDot], [nTtSolid, nTtDash, nTtDot])} />
      <Panel {...L} y0={270} h={215} dom={[27.04, 32.35]} ticks={logTicks} major={[28, 30, 32]} labeled={logDecades} fmt={fmtLog}
        series={nOffSeries} seg={[[0.19, 28.72], [0.5, 31.45]]} />
      <Panel {...L} y0={485} h={215} dom={[-0.105, 3.65]} ticks={range(0, 3.6, 0.2)} major={[0, 1, 2, 3]} labeled={[0, 1, 2, 3]} fmt={fmtNum}
        series={diagSeries([nbEeSolid, nbEeDash, nbEeDot], [nbMmSolid, nbMmDash, nbMmDot], [nbTtSolid, nbTtDash, nbTtDot])} />
      <Panel {...L} y0={700} h={215} dom={[27.04, 32.33]} ticks={logTicks} major={[28, 30, 32]} labeled={logDecades} fmt={fmtLog}
        series={nOffSeries} />
      <Panel {...L} y0={915} h={200} dom={[0.039, 1.15]} ticks={range(0.05, 1.15, 0.05)} major={[0.25, 0.5, 0.75, 1.0]} labeled={[0.25, 0.5, 0.75, 1.0]} fmt={fmtFix}
        series={[sm(nTot, BLUE, SOLID)]} />

      {/* right column */}
      <Panel {...R} y0={56} h={216} dom={[-15, 0.65]} ticks={range(-15, 0, 1)} major={[-15, -10, -5, 0]} labeled={[-15, -10, -5, 0]} fmt={fmtNum}
        series={diagSeries([fEeSolid, fEeDash, fEeDot], [fMmSolid, fMmDash, fMmDot], [fTtSolid, fTtDash, fTtDot])} seg={[[0.1, -8.0], [0.5, -0.65]]} />
      <Panel {...R} y0={272} h={216} dom={[-1.92, 3.54]} ticks={range(-1.5, 3.5, 0.5)} major={[0, 2]} labeled={[0, 2]} fmt={fmtNum}
        series={fOffSeries(fEmSolid, fEtSolid, fMtSolid)} />
      <Panel {...R} y0={488} h={218} dom={[-15, 0.65]} ticks={range(-15, 0, 1)} major={[-15, -10, -5, 0]} labeled={[-15, -10, -5, 0]} fmt={fmtNum}
        series={diagSeries([fbEeSolid, fbEeDash, fbEeDot], [fbMmSolid, fbMmDash, fbMmDot], [fbTtSolid, fbTtDash, fbTtDot])} />
      <Panel {...R} y0={706} h={216} dom={[-2.5, 1.99]} ticks={range(-2.4, 1.8, 0.2)} major={[-2, -1, 0, 1]} labeled={[-2, -1, 0, 1]} fmt={fmtNum}
        series={fOffSeries(fbEmSolid, fbEtSolid, fbMtSolid)} xLabels />

      {/* labels, legends, annotations */}
      <svg width={997} height={998} style={{ position: 'absolute', left: 0, top: 0, pointerEvents: 'none', zIndex: 5 }}>
        <T x={975} y={15} s="15" size={16} anchor="middle" />

        <T x={41} y={167} s={'*n* [10^{32} cm^{−3}]'} size={20} anchor="middle" rot={-90} />
        <T x={20} y={377} s={'*n* [cm^{−3}]'} size={20} anchor="middle" rot={-90} />
        <T x={41} y={593} s={'*~n* [10^{32} cm^{−3}]'} size={20} anchor="middle" rot={-90} />
        <T x={20} y={806} s={'*~n* [cm^{−3}]'} size={20} anchor="middle" rot={-90} />
        <T x={17} y={957} s={'*n*_{tot} [10^{32} cm^{−3}]'} size={20} anchor="end" rot={-90} />
        <T x={551} y={275} s={'log_{10} |*@f*|/|*n*|'} size={20} anchor="middle" rot={-90} />
        <T x={551} y={692} s={'log_{10} |*%f*|/|*~n*|'} size={20} anchor="middle" rot={-90} />
        <T x={781} y={954} s={'*t* [ms]'} size={20} anchor="middle" />

        <T x={90} y={357} s={'Im Ω^{max} = 2.1 × 10^{4} s^{−1}'} size={11} anchor="middle" rot={-73} />
        <T x={619} y={118} s={'2 Im Ω^{max} = 4.2 × 10^{4} s^{−1}'} size={11} anchor="middle" rot={-67} />

        <LegendCol x={76} w={67} tx={152} ys={[118, 137, 156]} colors={DIAG} labels={nLab} byStyle />
        <LegendCol x={198} w={67} tx={275} ys={[118, 137, 156]} colors={DIAG} labels={ETA} byStyle={false} />

        <LegendCol x={176} w={64} tx={252} ys={[427, 447, 467]} colors={OFF} labels={nOffLab} byStyle />
        <LegendCol x={295} w={65} tx={373} ys={[427, 447, 467]} colors={OFF} labels={ETA} byStyle={false} />

        <LegendCol x={82} w={61} tx={157} ys={[503]} colors={[BLUE]} labels={[nbLab[0]]} byStyle />
        <LegendCol x={200} w={67} tx={278} ys={[503]} colors={[ORANGE]} labels={[nbLab[1]]} byStyle />
        <LegendCol x={322} w={65} tx={398} ys={[503]} colors={[GREEN]} labels={[nbLab[2]]} byStyle />

        <LegendCol x={327} w={60} tx={402} ys={[857, 877, 897]} colors={OFF} labels={nbOffLab} byStyle />

        <LegendCol x={646} w={64} tx={720} ys={[211, 232, 252]} colors={DIAG} labels={fLab} byStyle />
        <LegendCol x={827} w={65} tx={902} ys={[211, 232, 252]} colors={DIAG} labels={ETA} byStyle={false} />

        <LegendCol x={647} w={64} tx={720} ys={[293, 313, 333]} colors={OFF} labels={fOffLab} byStyle />
        <LegendCol x={827} w={64} tx={902} ys={[293, 313, 333]} colors={OFF} labels={ETA} byStyle={false} />

        <LegendCol x={790} w={63} tx={865} ys={[637, 662, 687]} colors={DIAG} labels={fbLab} byStyle />
        <LegendCol x={789} w={64} tx={865} ys={[853, 878, 903]} colors={OFF} labels={fbOffLab} byStyle />
      </svg>
    </div>
  );
}
